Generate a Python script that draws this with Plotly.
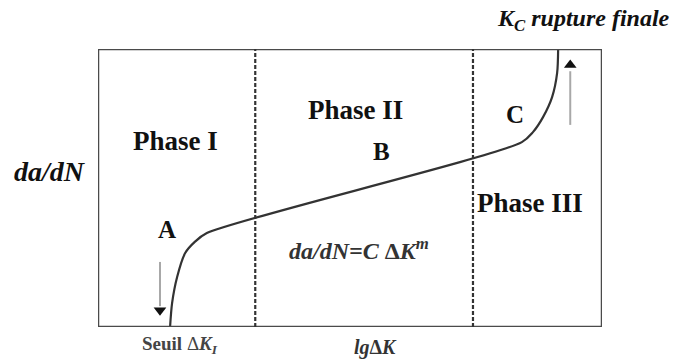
import plotly.graph_objects as go

# Fatigue crack growth curve (schematic): lg dK on x, da/dN on y, both 0..10
curve_x = [1.43, 1.47, 1.57, 1.73, 1.92, 2.16, 8.41, 8.63, 8.83, 9.01, 9.11, 9.13]
curve_y = [0.00, 0.86, 1.80, 2.66, 3.06, 3.38, 6.65, 7.01, 7.55, 8.27, 9.14, 10.0]

# Boundaries between the three phases
phase_bounds = [3.12, 7.44]

phase_labels = ["Phase I", "Phase II", "Phase III"]
point_labels = ["A", "B", "C"]

fig = go.Figure()

fig.add_trace(go.Scatter(
    x=curve_x, y=curve_y, mode="lines",
    line=dict(color="#333333", width=2.2, shape="spline", smoothing=0.8),
    hoverinfo="skip", showlegend=False))

# Frame
fig.add_shape(type="rect", x0=0, x1=10, y0=0, y1=10, xref="x", yref="y",
              line=dict(color="#4a4a4a", width=2.5))

for xb in phase_bounds:
    fig.add_shape(type="line", x0=xb, x1=xb, y0=0, y1=10, xref="x", yref="y",
                  line=dict(color="#333333", width=2.2, dash="4px,2px"))

# Arrows: threshold (down) and final rupture (up)
fig.add_shape(type="line", x0=1.23, x1=1.23, y0=2.34, y1=0.75,
              line=dict(color="#a8a8a8", width=2))
fig.add_shape(type="line", x0=9.37, x1=9.37, y0=7.27, y1=9.2,
              line=dict(color="#a8a8a8", width=2))
fig.add_trace(go.Scatter(
    x=[1.23, 9.37], y=[0.60, 9.42], mode="markers",
    marker=dict(symbol=["triangle-down", "triangle-up"], size=11, color="#111111"),
    hoverinfo="skip", showlegend=False))

serif = "Liberation Serif"

def label(text, x, y, size, color="#111111"):
    # positions given in the 0..10 chart units, placed on paper so labels
    # outside the frame are still drawn
    fig.add_annotation(x=x / 10, y=y / 10, xref="paper", yref="paper",
                       text=text, showarrow=False,
                       font=dict(family=serif, size=size, color=color),
                       xanchor="center", yanchor="middle")

label("<b>%s</b>" % phase_labels[0], 1.54, 6.69, 27)
label("<b>%s</b>" % phase_labels[1], 5.10, 7.81, 27)
label("<b>%s</b>" % phase_labels[2], 8.57, 4.46, 27)
label("<b>%s</b>" % point_labels[0], 1.37, 3.49, 25)
label("<b>%s</b>" % point_labels[1], 5.62, 6.33, 25)
label("<b>%s</b>" % point_labels[2], 8.27, 7.63, 25)

label("<b><i>da/dN=C</i> Δ<i>K<sup>m</sup></i></b>", 5.18, 2.80, 24, "#333333")
label("<b><i>da/dN</i></b>", -0.95, 5.58, 28)
label("<b>Seuil</b> Δ<b><i>K<sub>I</sub></i></b>", 1.63, -0.66, 19, "#444444")
label("<b><i>lg</i>Δ<i>K</i></b>", 5.50, -0.72, 20, "#333333")
label("<b><i>K<sub>C</sub> rupture finale</i></b>", 9.64, 11.04, 24)

fig.update_xaxes(range=[0, 10], visible=False)
fig.update_yaxes(range=[0, 10], visible=False)
fig.update_layout(
    width=673, height=361,
    margin=dict(l=98, r=71, t=49, b=34),
    paper_bgcolor="white", plot_bgcolor="white",
)

fig.write_html("out.html")
